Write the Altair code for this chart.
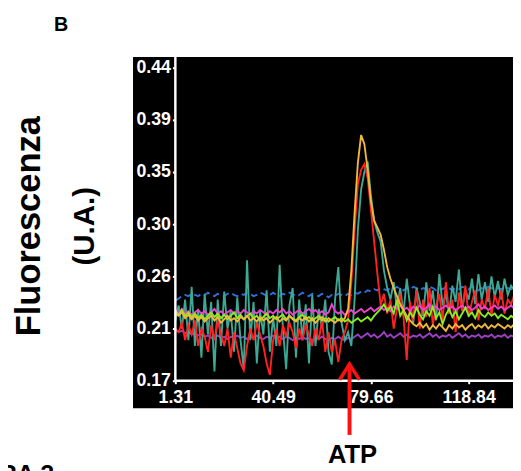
import altair as alt
import pandas as pd

# sampling grid (s)
T0 = 1.31
DT = 1.3059
ATP_T = 71.1

x_ticks = [1.31, 40.49, 79.66, 118.84]
y_ticks = [0.17, 0.215, 0.26, 0.305, 0.35, 0.395, 0.44]
y_tick_labels = ["0.17", "0.21", "0.26", "0.30", "0.35", "0.39", "0.44"]

teal = [0.222, 0.235, 0.215, 0.240, 0.205, 0.251, 0.200, 0.232, 0.190, 0.245,
        0.210, 0.238, 0.178, 0.240, 0.200, 0.247, 0.215, 0.230, 0.195, 0.242,
        0.205, 0.180, 0.274, 0.205, 0.238, 0.185, 0.230, 0.210, 0.248, 0.195,
        0.225, 0.200, 0.270, 0.215, 0.180, 0.235, 0.250, 0.190, 0.240, 0.205,
        0.236, 0.185, 0.244, 0.200, 0.232, 0.215, 0.240, 0.195, 0.184, 0.240,
        0.268, 0.220, 0.205, 0.212, 0.200, 0.240, 0.300, 0.335, 0.350, 0.359,
        0.330, 0.308, 0.298, 0.290, 0.265, 0.250, 0.240, 0.255, 0.232, 0.250,
        0.228, 0.258, 0.235, 0.220, 0.250, 0.238, 0.226, 0.255, 0.230, 0.248,
        0.222, 0.262, 0.235, 0.245, 0.228, 0.252, 0.238, 0.266, 0.232, 0.248,
        0.240, 0.258, 0.236, 0.262, 0.240, 0.255, 0.238, 0.260, 0.242, 0.256,
        0.240, 0.258, 0.244, 0.252, 0.248]

red = [0.215, 0.212, 0.220, 0.205, 0.218, 0.210, 0.222, 0.200, 0.215, 0.208,
       0.195, 0.218, 0.205, 0.222, 0.210, 0.200, 0.215, 0.190, 0.212, 0.198,
       0.185, 0.179, 0.200, 0.215, 0.205, 0.220, 0.210, 0.200, 0.185, 0.175,
       0.205, 0.215, 0.200, 0.218, 0.208, 0.220, 0.212, 0.198, 0.215, 0.205,
       0.218, 0.210, 0.200, 0.215, 0.205, 0.222, 0.195, 0.212, 0.195, 0.205,
       0.186, 0.205, 0.212, 0.222, 0.255, 0.300, 0.340, 0.352, 0.357, 0.345,
       0.318, 0.290, 0.262, 0.235, 0.245, 0.228, 0.240, 0.215, 0.232, 0.245,
       0.225, 0.188, 0.238, 0.222, 0.248, 0.215, 0.240, 0.225, 0.250, 0.218,
       0.235, 0.245, 0.222, 0.255, 0.228, 0.240, 0.212, 0.246, 0.230, 0.252,
       0.225, 0.238, 0.248, 0.222, 0.240, 0.232, 0.250, 0.226, 0.244, 0.235,
       0.248, 0.228, 0.240, 0.236, 0.244]

yellow = [0.228, 0.226, 0.229, 0.224, 0.227, 0.223, 0.226, 0.222, 0.225, 0.221,
          0.224, 0.226, 0.222, 0.225, 0.220, 0.223, 0.226, 0.222, 0.224, 0.221,
          0.225, 0.223, 0.226, 0.222, 0.224, 0.221, 0.225, 0.222, 0.224, 0.220,
          0.223, 0.225, 0.221, 0.224, 0.222, 0.226, 0.223, 0.221, 0.224, 0.222,
          0.225, 0.221, 0.224, 0.220, 0.223, 0.225, 0.221, 0.224, 0.222, 0.220,
          0.223, 0.221, 0.224, 0.232, 0.265, 0.315, 0.358, 0.382, 0.374, 0.352,
          0.325, 0.308, 0.302, 0.296, 0.283, 0.268, 0.258, 0.250, 0.243, 0.236,
          0.231, 0.226, 0.222, 0.219, 0.217, 0.220, 0.216, 0.219, 0.214, 0.218,
          0.215, 0.219, 0.216, 0.213, 0.218, 0.215, 0.219, 0.216, 0.218, 0.214,
          0.217, 0.219, 0.215, 0.218, 0.216, 0.219, 0.215, 0.218, 0.216, 0.219,
          0.217, 0.215, 0.218, 0.216, 0.219]

green = [0.230, 0.227, 0.231, 0.226, 0.229, 0.225, 0.228, 0.224, 0.227, 0.223,
         0.226, 0.229, 0.225, 0.228, 0.224, 0.227, 0.223, 0.226, 0.229, 0.224,
         0.227, 0.223, 0.226, 0.228, 0.224, 0.226, 0.222, 0.225, 0.228, 0.224,
         0.226, 0.223, 0.225, 0.227, 0.223, 0.226, 0.224, 0.222, 0.225, 0.227,
         0.223, 0.225, 0.222, 0.224, 0.226, 0.222, 0.224, 0.221, 0.223, 0.225,
         0.222, 0.224, 0.221, 0.223, 0.220, 0.222, 0.224, 0.221, 0.223, 0.225,
         0.222, 0.226, 0.229, 0.232, 0.236, 0.230, 0.234, 0.228, 0.240, 0.226,
         0.231, 0.222, 0.229, 0.225, 0.233, 0.227, 0.223, 0.230, 0.226, 0.234,
         0.224, 0.229, 0.219, 0.227, 0.232, 0.225, 0.230, 0.223, 0.228, 0.233,
         0.226, 0.229, 0.224, 0.231, 0.227, 0.225, 0.229, 0.226, 0.228, 0.224,
         0.227, 0.225, 0.223, 0.226, 0.224]

magenta = [0.231, 0.229, 0.232, 0.228, 0.230, 0.227, 0.229, 0.231, 0.228, 0.230,
           0.227, 0.229, 0.232, 0.228, 0.230, 0.227, 0.229, 0.231, 0.228, 0.230,
           0.228, 0.231, 0.229, 0.227, 0.230, 0.228, 0.231, 0.229, 0.227, 0.230,
           0.228, 0.231, 0.229, 0.232, 0.228, 0.230, 0.227, 0.229, 0.231, 0.228,
           0.230, 0.232, 0.229, 0.231, 0.228, 0.230, 0.227, 0.229, 0.236, 0.230,
           0.228, 0.230, 0.227, 0.229, 0.231, 0.228, 0.230, 0.232, 0.229, 0.231,
           0.233, 0.230, 0.232, 0.234, 0.231, 0.233, 0.230, 0.234, 0.232, 0.235,
           0.231, 0.233, 0.230, 0.234, 0.232, 0.235, 0.231, 0.233, 0.236, 0.232,
           0.234, 0.231, 0.233, 0.235, 0.232, 0.234, 0.231, 0.233, 0.235, 0.232,
           0.234, 0.231, 0.233, 0.236, 0.232, 0.234, 0.231, 0.233, 0.235, 0.232,
           0.234, 0.231, 0.233, 0.235, 0.232]

blue = [0.239, 0.241, 0.243, 0.244, 0.243, 0.245, 0.244, 0.243, 0.245, 0.244,
        0.246, 0.244, 0.243, 0.245, 0.244, 0.243, 0.245, 0.246, 0.244, 0.243,
        0.245, 0.244, 0.246, 0.245, 0.243, 0.244, 0.246, 0.245, 0.243, 0.244,
        0.246, 0.244, 0.243, 0.245, 0.244, 0.246, 0.245, 0.243, 0.244, 0.246,
        0.244, 0.243, 0.245, 0.244, 0.243, 0.245, 0.244, 0.242, 0.244, 0.243,
        0.245, 0.244, 0.243, 0.245, 0.244, 0.246, 0.245, 0.247, 0.246, 0.248,
        0.247, 0.249, 0.248, 0.250, 0.249, 0.248, 0.250, 0.249, 0.251, 0.249,
        0.248, 0.250, 0.249, 0.251, 0.250, 0.248, 0.250, 0.249, 0.251, 0.250,
        0.248, 0.250, 0.249, 0.251, 0.250, 0.248, 0.250, 0.249, 0.251, 0.250,
        0.249, 0.251, 0.250, 0.248, 0.250, 0.249, 0.251, 0.250, 0.248, 0.250,
        0.249, 0.251, 0.250, 0.249, 0.250]

purple = [0.214, 0.212, 0.213, 0.211, 0.212, 0.210, 0.211, 0.209, 0.210, 0.208,
          0.209, 0.207, 0.208, 0.209, 0.207, 0.208, 0.206, 0.208, 0.207, 0.209,
          0.207, 0.208, 0.206, 0.208, 0.207, 0.209, 0.207, 0.206, 0.208, 0.207,
          0.209, 0.207, 0.208, 0.206, 0.208, 0.207, 0.205, 0.207, 0.206, 0.208,
          0.206, 0.207, 0.205, 0.207, 0.206, 0.208, 0.206, 0.205, 0.207, 0.206,
          0.208, 0.206, 0.205, 0.207, 0.206, 0.208, 0.210, 0.207, 0.209, 0.211,
          0.208, 0.210, 0.207, 0.209, 0.212, 0.208, 0.210, 0.207, 0.209, 0.211,
          0.208, 0.210, 0.207, 0.209, 0.208, 0.210, 0.207, 0.209, 0.211, 0.208,
          0.210, 0.207, 0.209, 0.208, 0.210, 0.207, 0.209, 0.211, 0.208, 0.210,
          0.207, 0.209, 0.208, 0.210, 0.207, 0.209, 0.208, 0.210, 0.207, 0.209,
          0.208, 0.210, 0.207, 0.209, 0.208]

# drawing order: first drawn at the bottom
series = [
    ("purple", purple, "#a040c8", None),
    ("blue", blue, "#2f6fd8", [7, 4]),
    ("teal", teal, "#3da894", None),
    ("red", red, "#ff2222", None),
    ("magenta", magenta, "#f040d0", None),
    ("green", green, "#88ee22", None),
    ("yellow", yellow, "#f2b83a", None),
]

X_DOMAIN = [-15.65, 136.6]
Y_DOMAIN = [0.14623, 0.44934]
FONT = "Liberation Sans"

xs = alt.Scale(domain=X_DOMAIN, nice=False, zero=False)
ys = alt.Scale(domain=Y_DOMAIN, nice=False, zero=False)

x_axis = alt.Axis(values=x_ticks, format=".2f", offset=-28, title=None,
                  labelOverlap=False, labelFlush=False, tickSize=3, labelPadding=5)
label_js = "[" + ",".join("'%s'" % s for s in y_tick_labels) + "]"
y_axis = alt.Axis(values=y_ticks, offset=-43, title=None, labelOverlap=False,
                  labelFlush=False, tickSize=3, labelPadding=2,
                  labelExpr=label_js + "[round((datum.value-0.17)/0.045)]")


def X(field, **kw):
    return alt.X(field, type="quantitative", scale=xs, axis=x_axis, **kw)


def Y(field, **kw):
    return alt.Y(field, type="quantitative", scale=ys, axis=y_axis, **kw)


layers = []

# axis lines (only up to the axes' crossing)
ax_y = pd.DataFrame({"x": [x_ticks[0]], "y": [y_ticks[0]], "y2": [Y_DOMAIN[1]]})
ax_x = pd.DataFrame({"x": [x_ticks[0]], "x2": [X_DOMAIN[1]], "y": [y_ticks[0]]})

for name, vals, color, dash in series:
    df = pd.DataFrame({"t": [T0 + DT * i for i in range(len(vals))], "v": vals})
    kw = dict(color=color, strokeWidth=1.9, clip=True)
    if dash:
        kw["strokeDash"] = dash
    layers.append(alt.Chart(df).mark_line(**kw).encode(x=X("t"), y=Y("v")))

layers.append(alt.Chart(ax_y).mark_rule(color="white", strokeWidth=2.5).encode(
    x=X("x"), y=Y("y"), y2="y2"))
layers.append(alt.Chart(ax_x).mark_rule(color="white", strokeWidth=2.5).encode(
    x=X("x"), x2="x2", y=Y("y")))

# ATP arrow
atp_df = pd.DataFrame({"t": [ATP_T]})
layers.append(alt.Chart(atp_df).mark_rule(color="#ff1010", strokeWidth=4).encode(
    x=X("t"), y=alt.value(313), y2=alt.value(384)))
layers.append(alt.Chart(atp_df).mark_point(
    shape="M-1,0.8L0,-0.8L1,0.8", filled=False, color="#ff1010",
    strokeWidth=3.5, size=400, opacity=1).encode(x=X("t"), y=alt.value(320)))


# text annotations
def label(text, x, y, size, angle=0, align="center", baseline="alphabetic"):
    d = pd.DataFrame({"txt": [text]})
    kw = dict(font=FONT, fontWeight="bold", fontSize=size, color="black",
              align=align, baseline=baseline)
    if angle:
        kw["angle"] = angle
    return alt.Chart(d).mark_text(**kw).encode(
        text="txt:N", x=alt.value(x), y=alt.value(y))


layers.append(label("B", -73, -26, 20))
layers.append(label("Fluorescenza", -95, 172, 35, angle=270))
layers.append(label("(U.A.)", -40, 172, 30, angle=270))
layers.append(label("ATP", 223, 413, 26))
layers.append(label("FIGURA 3", -80, 432, 25, align="right"))

chart = alt.layer(*layers).properties(
    width=386, height=357,
    padding={"left": 127, "top": 46, "right": 0, "bottom": 60},
    autosize=alt.AutoSizeParams(type="none"),
    background="white",
).configure_view(fill="black", stroke=None).configure_axis(
    grid=False, domain=False, labelColor="white", tickColor="white",
    tickWidth=2, labelFont=FONT, labelFontWeight="bold", labelFontSize=18,
)

chart.save("out.html", embed_options={"renderer": "svg", "actions": False})
